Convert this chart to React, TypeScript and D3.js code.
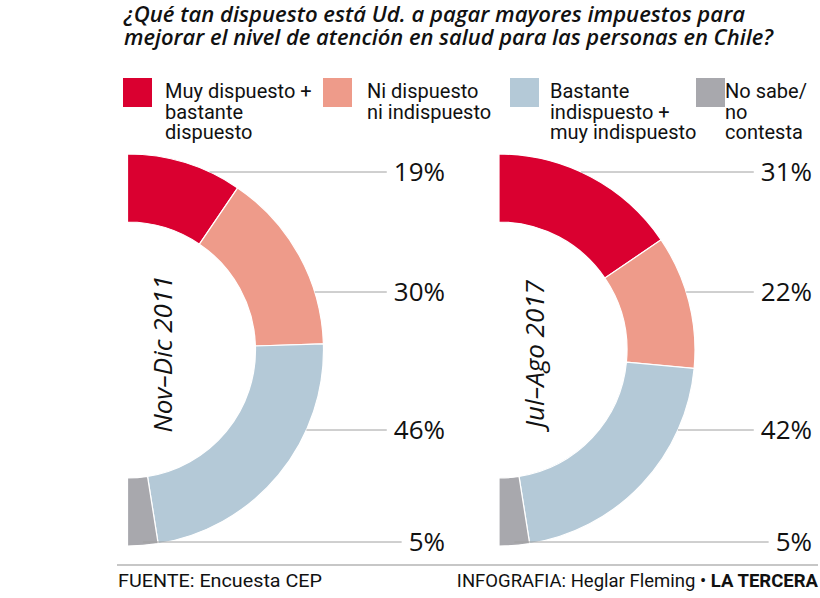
import React, { useEffect, useRef } from "react";
import * as d3 from "d3";

// ---------- data ----------
const titleLines = [
  "¿Qué tan dispuesto está Ud. a pagar mayores impuestos para",
  "mejorar el nivel de atención en salud para las personas en Chile?",
];
const categories = [
  ["Muy dispuesto +", "bastante", "dispuesto"],
  ["Ni dispuesto", "ni indispuesto"],
  ["Bastante", "indispuesto +", "muy indispuesto"],
  ["No sabe/", "no", "contesta"],
];
const periods = ["Nov–Dic 2011", "Jul–Ago 2017"];
const values2011 = [19, 30, 46, 5];
const values2017 = [31, 22, 42, 5];
const seriesValues = [values2011, values2017];
const sourceText = "FUENTE: Encuesta CEP";
const creditText = "INFOGRAFIA: Heglar Fleming • ";
const brandText = "LA TERCERA";

// ---------- style / layout ----------
const W = 820;
const H = 598;
const colors = ["#DA0030", "#EE9B8A", "#B4C9D7", "#A8A8AD"];
const donutCx = [127.5, 499];
const donutCy = 350;
const outerR = 196;
const innerR = 128;
const labelYs = [172, 292, 430, 542];
const labelRight = [445, 812];
const legendX = [123, 323, 510, 696];
const legendTextX = [165, 367, 550, 725];

export default function App() {
  const ref = useRef<SVGSVGElement | null>(null);

  useEffect(() => {
    const svg = d3.select(ref.current);
    svg.selectAll("*").remove();
    svg.append("rect").attr("width", W).attr("height", H).attr("fill", "#fff");

    // title
    const tW = [621, 649];
    titleLines.forEach((t, i) => {
      svg
        .append("text")
        .attr("x", 124)
        .attr("y", 22 + i * 23)
        .attr("font-family", "'Open Sans', sans-serif")
        .attr("font-style", "italic")
        .attr("font-weight", 600)
        .attr("font-size", 21)
        .attr("fill", "#111")
        .attr("textLength", tW[i])
        .attr("lengthAdjust", "spacingAndGlyphs")
        .text(t);
    });

    // legend
    categories.forEach((lines, i) => {
      svg
        .append("rect")
        .attr("x", legendX[i])
        .attr("y", 78)
        .attr("width", 29)
        .attr("height", 29)
        .attr("fill", colors[i]);
      lines.forEach((l, j) => {
        svg
          .append("text")
          .attr("x", legendTextX[i])
          .attr("y", 98 + j * 20.5)
          .attr("font-family", "Roboto, sans-serif")
          .attr("font-size", 20)
          .attr("fill", "#111")
          .text(l);
      });
    });

    // donuts
    const pie = d3
      .pie<number>()
      .sort(null)
      .value((d) => d)
      .startAngle(0)
      .endAngle(Math.PI);
    const arc = d3.arc<d3.PieArcDatum<number>>().innerRadius(innerR).outerRadius(outerR);

    seriesValues.forEach((vals, k) => {
      const cx = donutCx[k];
      const g = svg.append("g").attr("transform", `translate(${cx},${donutCy})`);
      const arcs = pie(vals);
      g.selectAll("path")
        .data(arcs)
        .join("path")
        .attr("d", arc as any)
        .attr("fill", (_d, i) => colors[i])
        .attr("stroke", "#fff")
        .attr("stroke-width", 1.2);

      // rotated period label
      svg
        .append("text")
        .attr("transform", `translate(${cx + 44.5},${donutCy + 4}) rotate(-90)`)
        .attr("text-anchor", "middle")
        .attr("font-family", "'Open Sans', sans-serif")
        .attr("font-style", "italic")
        .attr("font-size", 26)
        .attr("fill", "#111")
        .text(periods[k]);

      // labels + leaders
      arcs.forEach((a, i) => {
        const ly = labelYs[i];
        const txt = svg
          .append("text")
          .attr("x", labelRight[k])
          .attr("y", ly + 9)
          .attr("text-anchor", "end")
          .attr("font-family", "'Open Sans', sans-serif")
          .attr("font-size", 26)
          .attr("fill", "#111")
          .text(`${vals[i]}%`);
        const bb = (txt.node() as SVGTextElement).getBBox();
        const dy = ly - donutCy;
        const theta = Math.acos(Math.max(-1, Math.min(1, -dy / outerR)));
        let x0: number;
        if (theta >= a.startAngle && theta <= a.endAngle) {
          x0 = cx + outerR * Math.sin(theta);
        } else {
          const mid = (a.startAngle + a.endAngle) / 2;
          x0 = cx + outerR * Math.sin(mid);
        }
        svg
          .append("line")
          .attr("x1", x0)
          .attr("x2", bb.x - 7)
          .attr("y1", ly)
          .attr("y2", ly)
          .attr("stroke", "#a0a0a0")
          .attr("stroke-width", 1);
      });
    });

    // footer
    svg
      .append("line")
      .attr("x1", 117)
      .attr("x2", 818)
      .attr("y1", 565)
      .attr("y2", 565)
      .attr("stroke", "#b5b5b5")
      .attr("stroke-width", 1.5);
    svg
      .append("text")
      .attr("x", 118)
      .attr("y", 587)
      .attr("font-family", "Roboto, sans-serif")
      .attr("font-size", 19)
      .attr("fill", "#111")
      .attr("textLength", 204)
      .attr("lengthAdjust", "spacingAndGlyphs")
      .text(sourceText);
    const ft = svg
      .append("text")
      .attr("x", 818)
      .attr("y", 587)
      .attr("text-anchor", "end")
      .attr("font-family", "Roboto, sans-serif")
      .attr("font-size", 18.5)
      .attr("fill", "#111");
    ft.append("tspan").text(creditText);
    ft.append("tspan").attr("font-weight", "bold").text(brandText);
  }, []);

  return (
    <svg
      ref={ref}
      width={W}
      height={H}
      style={{ position: "absolute", left: 0, top: 0, display: "block" }}
    />
  );
}
